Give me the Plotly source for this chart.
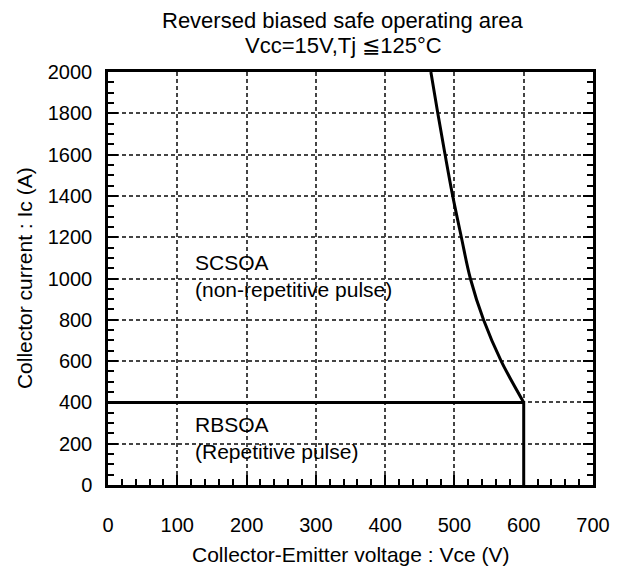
import plotly.graph_objects as go

# Data
scsoa_v = [466, 476, 486.5, 497.5, 510, 523, 542, 567.5, 600]
scsoa_i = [2000, 1800, 1600, 1400, 1200, 1000, 800, 600, 400]
rbsoa_v = [0, 600, 600]
rbsoa_i = [400, 400, 0]

x_ticks = [0, 100, 200, 300, 400, 500, 600, 700]
y_ticks = [0, 200, 400, 600, 800, 1000, 1200, 1400, 1600, 1800, 2000]

title_lines = ["Reversed biased safe operating area", "Vcc=15V,Tj ≦125°C"]
x_title = "Collector-Emitter voltage : Vce (V)"
y_title = "Collector current : Ic (A)"
label_sc = "SCSOA<br>(non-repetitive pulse)"
label_rb = "RBSOA<br>(Repetitive pulse)"

FONT = "Arial, Liberation Sans, sans-serif"
FS = 20     # tick labels
FT = 21     # axis titles, area labels
FH = 22     # chart title

fig = go.Figure()
fig.add_trace(go.Scatter(x=scsoa_v, y=scsoa_i, mode="lines", line_shape="spline",
                         line=dict(color="black", width=3), showlegend=False))
fig.add_trace(go.Scatter(x=rbsoa_v, y=rbsoa_i, mode="lines",
                         line=dict(color="black", width=3), showlegend=False))
# invisible trace to carry the label axis
fig.add_trace(go.Scatter(x=[None], y=[None], xaxis="x2", mode="lines",
                         showlegend=False, hoverinfo="skip"))

fig.update_layout(
    width=622, height=574,
    margin=dict(l=108, r=25, t=72, b=89),
    paper_bgcolor="white", plot_bgcolor="white",
    font=dict(family=FONT, size=FS, color="black"),
    showlegend=False,
    xaxis=dict(
        range=[0, 700], tickvals=x_ticks, showticklabels=False,
        showline=True, linecolor="black", linewidth=2.5, mirror=True,
        showgrid=True, gridcolor="#444444", gridwidth=1.5, griddash="4px,3px",
        ticks="inside", ticklen=10, tickwidth=2, tickcolor="black", zeroline=False,
        minor=dict(dtick=20, ticks="inside", ticklen=6, tickwidth=2,
                   tickcolor="black", showgrid=False),
    ),
    xaxis2=dict(
        range=[0, 700], tickvals=x_ticks, overlaying="x", anchor="y", side="bottom",
        showline=False, showgrid=False, zeroline=False,
        ticks="outside", ticklen=22, tickcolor="rgba(0,0,0,0)",
        tickfont=dict(size=FS, family=FONT),
    ),
    yaxis=dict(
        range=[0, 2000], tickvals=y_ticks, ticklabelstandoff=9,
        showline=True, linecolor="black", linewidth=2.5, mirror="ticks",
        showgrid=True, gridcolor="#444444", gridwidth=1.5, griddash="4px,3px",
        ticks="inside", ticklen=10, tickwidth=2, tickcolor="black", zeroline=False,
        tickfont=dict(size=FS, family=FONT),
        minor=dict(dtick=50, ticks="inside", ticklen=6, tickwidth=2,
                   tickcolor="black", showgrid=False),
    ),
)

# Titles
fig.add_annotation(text=title_lines[0], xref="paper", yref="paper", x=0.485, y=1.0, yshift=52,
                   xanchor="center", yanchor="middle", showarrow=False,
                   font=dict(size=FH, family=FONT))
fig.add_annotation(text=title_lines[1], xref="paper", yref="paper", x=0.485, y=1.0, yshift=27,
                   xanchor="center", yanchor="middle", showarrow=False,
                   font=dict(size=FH, family=FONT))
fig.add_annotation(text=x_title, xref="paper", yref="paper", x=0.5, y=0.0, yshift=-69,
                   xanchor="center", yanchor="middle", showarrow=False,
                   font=dict(size=FT, family=FONT))
fig.add_annotation(text=y_title, xref="paper", yref="paper", x=-0.172, y=0.5,
                   xanchor="center", yanchor="middle", textangle=-90, showarrow=False,
                   font=dict(size=FT, family=FONT))

fig.add_annotation(text=label_sc, x=122, y=1014,
                   xanchor="left", yanchor="middle", align="left", showarrow=False,
                   font=dict(size=FT, family=FONT))
fig.add_annotation(text=label_rb, x=122, y=230,
                   xanchor="left", yanchor="middle", align="left", showarrow=False,
                   font=dict(size=FT, family=FONT))

fig.write_html("out.html", config={"displayModeBar": False},
               post_script="document.body.style.margin='0';")
